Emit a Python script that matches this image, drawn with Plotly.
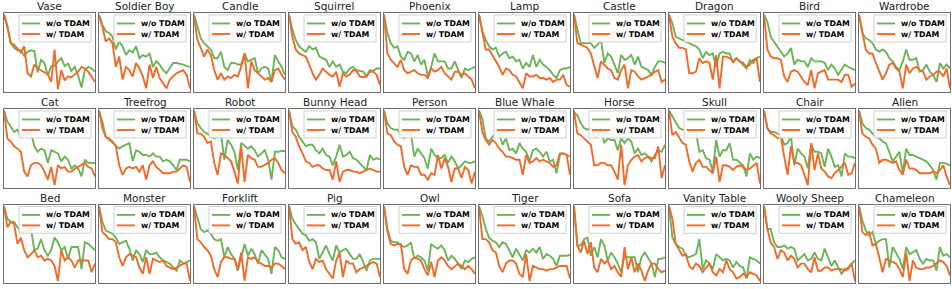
import plotly.graph_objects as go

# ---- data: normalized error curves per object (w/o TDAM vs w/ TDAM) ----
vase_wo = [98,82,62,56,53,53,46,51,53,52,25,41,37,21,33,33,39,43,33,36,27,32,21,6,28,32,30,26]
vase_w = [98,84,62,60,55,50,58,24,20,35,30,28,26,23,13,54,4,28,15,20,19,22,26,32,30,26,20,13]
soldier_wo = [98,85,77,75,70,54,64,58,47,53,50,58,43,47,45,49,32,39,35,28,24,30,37,37,36,35,33,32]
soldier_w = [96,83,64,68,62,32,45,16,32,28,20,37,30,20,5,35,18,32,18,11,5,16,20,24,26,28,22,5]
candle_wo = [98,83,68,62,58,54,43,43,51,32,28,37,37,35,35,49,39,41,43,24,30,32,30,13,47,39,32,22]
candle_w = [96,66,56,45,54,47,28,16,24,16,20,18,22,20,32,49,5,39,28,24,20,16,18,13,28,30,22,16]
squirrel_wo = [98,79,66,58,54,51,58,54,56,45,43,41,32,39,32,35,26,24,30,32,28,27,26,20,28,27,30,30]
squirrel_w = [98,70,54,49,47,45,35,24,16,22,30,26,22,20,26,7,24,20,22,28,27,20,19,20,26,26,22,9]
phoenix_wo = [98,75,62,56,58,45,41,51,49,39,47,35,41,20,32,49,39,39,39,30,30,39,28,18,30,28,30,32]
phoenix_w = [98,49,41,37,32,41,28,24,26,28,24,22,22,18,30,26,28,32,24,20,16,26,26,22,24,20,16,5]
lamp_wo = [98,77,66,58,54,56,45,49,51,43,45,39,41,30,37,32,47,32,41,35,32,28,22,18,28,30,30,32]
lamp_w = [98,75,54,54,47,39,32,22,30,28,22,20,13,5,24,20,20,22,18,18,16,18,13,16,16,22,9,7]
castle_wo = [98,79,62,62,62,62,56,60,66,37,49,45,35,24,47,41,43,47,35,45,32,30,28,22,32,39,39,37]
castle_w = [98,62,60,58,56,49,32,18,39,35,30,28,18,16,28,35,5,28,26,20,16,18,20,22,26,28,13,16]
dragon_wo = [98,87,70,68,66,64,62,60,58,54,43,51,47,49,32,49,51,49,49,37,43,39,35,30,41,37,43,45]
dragon_w = [98,70,62,56,56,54,24,24,26,43,37,39,37,16,47,5,45,45,43,39,43,39,37,32,35,41,43,13]
bird_wo = [98,89,70,64,58,51,45,49,56,35,41,39,39,32,43,39,39,39,37,28,35,30,22,28,35,32,30,28]
bird_w = [98,54,45,43,43,41,20,13,26,28,26,20,13,9,28,5,24,26,28,16,16,16,16,13,22,22,7,11]
wardrobe_wo = [98,75,68,66,62,54,51,54,51,43,39,32,28,39,54,41,41,43,26,28,35,26,22,13,37,30,35,30]
wardrobe_w = [98,75,54,49,49,37,26,16,24,35,37,30,26,5,35,24,30,32,28,26,16,20,22,26,26,20,30,5]
cat_wo = [98,84,78,71,74,65,67,69,71,53,46,50,48,32,48,46,44,34,40,36,25,29,25,15,36,32,32,32]
cat_w = [98,63,59,53,50,46,21,15,29,32,32,29,21,11,27,4,29,25,27,21,21,25,27,29,32,27,25,15]
treefrog_wo = [98,84,65,61,57,53,50,53,55,57,34,48,46,42,42,40,44,40,40,34,36,34,29,23,36,36,36,34]
treefrog_w = [98,76,65,63,59,53,29,17,25,27,25,27,21,29,11,29,34,27,23,19,19,19,21,21,25,29,27,8]
robot_wo = [98,82,76,71,69,65,63,65,69,36,61,55,46,23,57,53,50,53,48,40,44,48,36,11,46,46,47,47]
robot_w = [98,69,69,65,57,59,32,17,44,42,38,34,21,6,53,8,42,38,36,27,27,29,32,36,38,32,23,19]
bunny_wo = [98,78,74,65,59,53,55,55,48,44,50,42,40,29,40,55,40,42,46,38,36,32,27,23,42,36,38,36]
bunny_w = [98,71,65,53,44,34,32,27,29,29,25,23,23,11,34,8,21,23,23,21,21,19,21,23,25,23,21,21]
person_wo = [98,82,76,74,74,69,63,67,69,40,50,44,38,25,50,42,38,38,42,32,40,34,25,29,34,32,32,34]
person_w = [98,69,67,59,55,53,27,17,29,27,27,17,17,11,19,17,42,25,38,27,8,25,25,13,27,23,6,21]
whale_wo = [98,88,63,59,65,69,69,55,63,48,50,44,57,50,46,34,48,50,46,40,46,34,36,19,42,44,42,40]
whale_w = [98,71,61,55,61,57,50,46,40,40,38,36,36,17,42,32,34,38,34,36,34,32,27,29,44,44,42,17]
horse_wo = [96,92,82,76,74,76,65,65,76,57,63,61,61,48,63,57,63,59,44,50,42,44,40,34,42,48,46,55]
horse_w = [98,69,67,63,59,55,29,29,32,32,29,29,21,11,55,4,29,36,40,42,34,38,40,38,38,53,13,29]
skull_wo = [98,90,84,76,74,74,71,74,71,46,48,38,36,21,61,40,48,48,57,36,36,32,29,15,44,36,40,38]
skull_w = [98,67,71,63,57,55,34,21,32,36,27,27,23,19,40,8,29,29,27,23,27,29,27,23,25,29,32,6]
chair_wo = [98,76,71,71,69,67,55,57,65,29,50,44,40,25,55,46,46,44,27,50,40,27,29,15,44,40,40,38]
chair_w = [98,76,69,67,63,65,40,17,53,32,32,29,17,4,57,23,44,25,21,15,13,19,23,27,32,17,19,32]
alien_wo = [98,82,76,74,69,65,63,59,57,44,34,40,46,19,50,42,42,40,38,36,34,29,23,11,32,32,31,29]
alien_w = [98,69,65,63,55,50,32,36,36,34,32,34,23,17,36,25,25,23,19,19,19,19,21,19,23,29,15,4]
bed_wo = [98,82,78,78,71,65,65,67,69,42,44,56,42,35,42,58,52,42,46,31,46,46,46,18,52,50,46,42]
bed_w = [98,71,78,75,50,58,42,33,37,42,33,35,29,31,29,22,3,42,29,33,29,20,29,29,29,29,14,25]
monster_wo = [98,78,67,65,63,58,50,52,54,44,29,42,37,27,42,37,37,39,33,29,27,25,20,16,29,25,27,29]
monster_w = [98,65,61,56,56,52,33,22,33,37,35,33,20,12,33,12,31,29,27,29,22,20,18,20,22,25,25,3]
forklift_wo = [98,82,69,65,67,63,56,54,56,33,46,37,31,16,35,50,35,44,37,25,42,37,31,12,46,42,33,31]
forklift_w = [98,56,52,46,42,35,18,8,27,33,33,31,31,18,39,3,33,31,33,27,25,22,22,20,25,25,22,18]
pig_wo = [98,82,75,69,63,61,54,56,52,31,39,48,37,29,48,39,42,44,37,31,31,37,27,16,29,31,31,31]
pig_w = [98,56,50,52,42,46,27,18,31,27,29,18,12,6,29,39,8,29,25,25,14,18,20,22,25,27,25,8]
owl_wo = [98,69,54,52,52,48,46,48,52,31,35,33,29,16,50,46,44,48,42,29,35,31,25,18,29,27,31,33]
owl_w = [98,67,50,48,50,50,18,12,29,33,31,29,18,10,27,8,29,33,29,22,18,22,25,22,18,22,18,12]
tiger_wo = [98,86,69,58,54,52,46,52,50,42,33,44,37,29,42,39,44,39,46,31,37,35,31,22,35,35,35,36]
tiger_w = [98,56,56,52,42,39,22,14,25,29,29,25,12,8,37,3,22,20,18,18,16,18,18,20,22,22,22,6]
sofa_wo = [98,48,48,56,58,35,46,33,56,48,29,39,33,25,14,35,33,33,33,14,33,39,31,25,8,31,31,33]
sofa_w = [98,48,39,54,37,52,20,14,31,25,29,18,22,14,8,46,18,33,14,25,16,3,16,25,25,18,14,16]
vanity_wo = [98,58,50,46,44,35,33,35,37,56,18,29,25,18,37,33,29,31,29,20,27,22,20,6,33,31,29,25]
vanity_w = [98,82,50,42,35,37,22,18,25,22,14,20,25,14,10,18,14,29,18,14,6,8,12,8,14,12,10,3]
sheep_wo = [98,69,69,52,46,46,48,44,46,44,29,33,37,29,31,39,31,29,44,33,22,29,20,12,18,20,25,29]
sheep_w = [98,69,52,46,31,42,39,29,35,31,20,25,25,18,14,33,16,16,20,20,16,18,18,18,16,18,25,3]
chameleon_wo = [98,80,67,61,65,50,54,56,56,20,46,39,31,18,46,37,39,42,31,25,31,29,29,16,46,35,37,33]
chameleon_w = [98,65,61,65,48,50,33,14,31,29,27,25,18,8,39,3,29,20,18,18,20,20,22,25,29,27,22,10]

titles = ["Vase", "Soldier Boy", "Candle", "Squirrel", "Phoenix", "Lamp", "Castle", "Dragon", "Bird", "Wardrobe",
          "Cat", "Treefrog", "Robot", "Bunny Head", "Person", "Blue Whale", "Horse", "Skull", "Chair", "Alien",
          "Bed", "Monster", "Forklift", "Pig", "Owl", "Tiger", "Sofa", "Vanity Table", "Wooly Sheep", "Chameleon"]
series_wo = [vase_wo, soldier_wo, candle_wo, squirrel_wo, phoenix_wo, lamp_wo, castle_wo, dragon_wo, bird_wo, wardrobe_wo,
             cat_wo, treefrog_wo, robot_wo, bunny_wo, person_wo, whale_wo, horse_wo, skull_wo, chair_wo, alien_wo,
             bed_wo, monster_wo, forklift_wo, pig_wo, owl_wo, tiger_wo, sofa_wo, vanity_wo, sheep_wo, chameleon_wo]
series_w = [vase_w, soldier_w, candle_w, squirrel_w, phoenix_w, lamp_w, castle_w, dragon_w, bird_w, wardrobe_w,
            cat_w, treefrog_w, robot_w, bunny_w, person_w, whale_w, horse_w, skull_w, chair_w, alien_w,
            bed_w, monster_w, forklift_w, pig_w, owl_w, tiger_w, sofa_w, vanity_w, sheep_w, chameleon_w]
legend_labels = ["w/o TDAM", "w/ TDAM"]

GREEN = "#6cb35a"
ORANGE = "#f26a28"
W, H = 952, 289
row_top = [13, 109, 204.5]
row_bot = [92.3, 188.3, 283.3]

fig = go.Figure()
layout = dict(width=W, height=H, margin=dict(l=0, r=0, t=0, b=0, pad=0), autosize=False,
              plot_bgcolor="white", paper_bgcolor="white", showlegend=False)
shapes, annotations = [], []

for k, title in enumerate(titles):
    r, c = divmod(k, 10)
    n = k + 1
    xa = "x" if n == 1 else f"x{n}"
    ya = "y" if n == 1 else f"y{n}"
    axis_common = dict(showticklabels=False, ticks="", showgrid=False, zeroline=False,
                       showline=True, mirror=True, linecolor="#707070", linewidth=1, fixedrange=True)
    x0 = (4 + 95 * c) / W
    x1 = (95 + 95 * c) / W
    y1 = 1 - row_top[r] / H
    y0 = 1 - row_bot[r] / H
    gwo, gw = series_wo[k], series_w[k]
    npts = max(len(gwo), len(gw))
    layout["xaxis" if n == 1 else f"xaxis{n}"] = dict(axis_common, domain=[x0, x1], range=[0, npts - 1], anchor=ya)
    layout["yaxis" if n == 1 else f"yaxis{n}"] = dict(axis_common, domain=[y0, y1], range=[0, 100], anchor=xa)

    fig.add_trace(go.Scatter(x=list(range(len(gwo))), y=gwo, mode="lines", name=legend_labels[0],
                             line=dict(color=GREEN, width=1.9), xaxis=xa, yaxis=ya, hoverinfo="skip"))
    fig.add_trace(go.Scatter(x=list(range(len(gw))), y=gw, mode="lines", name=legend_labels[1],
                             line=dict(color=ORANGE, width=1.9), xaxis=xa, yaxis=ya, hoverinfo="skip"))

    xr, yr = f"{xa} domain", f"{ya} domain"
    # legend box
    shapes.append(dict(type="rect", xref=xr, yref=yr, x0=0.165, x1=0.957, y0=0.635, y1=0.975,
                       line=dict(color="#d0d0d0", width=1), fillcolor="rgba(255,255,255,0.85)", layer="above"))
    for j, (col, yy) in enumerate([(GREEN, 0.868), (ORANGE, 0.735)]):
        shapes.append(dict(type="line", xref=xr, yref=yr, x0=0.197, x1=0.397, y0=yy, y1=yy,
                           line=dict(color=col, width=1.9), layer="above"))
        annotations.append(dict(xref=xr, yref=yr, x=0.44, y=yy, xanchor="left", yanchor="middle",
                                text=f"<b>{legend_labels[j]}</b>", showarrow=False,
                                font=dict(family="DejaVu Sans", size=7.8, color="black")))
    annotations.append(dict(xref=xr, yref=yr, x=0.5, y=1, xanchor="center", yanchor="bottom",
                            text=title, showarrow=False, yshift=-1,
                            font=dict(family="DejaVu Sans", size=10.5, color="#222222")))

layout["shapes"] = shapes
layout["annotations"] = annotations
fig.update_layout(**layout)
fig.write_html("out.html", config={"displayModeBar": False},
               post_script="document.body.style.margin='0';document.body.style.overflow='hidden';")
